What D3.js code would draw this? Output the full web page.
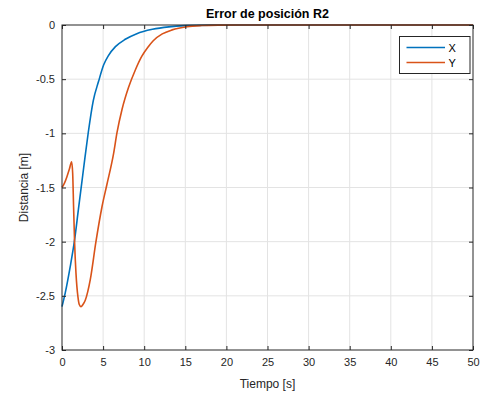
<!DOCTYPE html>
<html>
<head>
<meta charset="utf-8">
<script src="https://cdn.jsdelivr.net/npm/d3@7"></script>
<style>
  body { margin: 0; background: #fff; }
  svg { font-family: "Liberation Sans", Arial, sans-serif; }
</style>
</head>
<body>
<div id="chart"></div>
<script>
"use strict"
// Time samples [s] and position error [m] for each coordinate
var tX = [0, 0.4, 1.0, 1.5, 2.0, 2.4, 2.8, 3.2, 3.8, 4.45, 5.06, 5.67, 6.5, 7.7, 9.1, 11, 13, 15, 18, 21, 50]
var errX = [-2.6, -2.47, -2.23, -2.0, -1.7, -1.46, -1.22, -0.99, -0.7, -0.52, -0.37, -0.28, -0.2, -0.132, -0.08, -0.04, -0.017, -0.006, -0.001, 0, 0]

var tY = [0, 0.3, 0.6, 0.9, 1.17, 1.3, 1.41, 1.53, 1.7, 1.94, 2.1, 2.31, 2.55, 2.83, 3.44, 4.13, 4.86, 5.47, 6.28, 6.69, 7.3, 8.1, 8.92, 9.7, 10.5, 11.1, 12.2, 13.4, 15.2, 17, 19, 22, 50]
var errY = [-1.5, -1.46, -1.4, -1.33, -1.262, -1.37, -1.68, -2.0, -2.29, -2.51, -2.58, -2.6, -2.58, -2.54, -2.35, -2.0, -1.68, -1.47, -1.185, -0.994, -0.78, -0.575, -0.415, -0.29, -0.2, -0.145, -0.082, -0.045, -0.016, -0.005, -0.001, 0, 0]

var seriesNames = ["X", "Y"]
var seriesColors = ["#0072BD", "#D95319"]
var xTicks = [0, 5, 10, 15, 20, 25, 30, 35, 40, 45, 50]
var yTicks = [0, -0.5, -1, -1.5, -2, -2.5, -3]

var width = 482
var height = 395
var margin = { top: 25, right: 9, bottom: 45, left: 62 }
var drawWidth = width - margin.left - margin.right
var drawHeight = height - margin.top - margin.bottom
var axisColor = "#262626"

var svg = d3.select("#chart").append("svg")
    .attr("width", width)
    .attr("height", height)

var g = svg.append("g")
    .attr("transform", "translate(" + margin.left + "," + margin.top + ")")

var xScale = d3.scaleLinear().domain([0, 50]).range([0, drawWidth])
var yScale = d3.scaleLinear().domain([-3, 0]).range([drawHeight, 0])

// Grid lines
g.append("g").selectAll("line").data(xTicks.slice(1, -1)).enter().append("line")
    .attr("x1", function (d) { return xScale(d) }).attr("x2", function (d) { return xScale(d) })
    .attr("y1", 0).attr("y2", drawHeight)
    .attr("stroke", "#e3e3e3").attr("stroke-width", 1)
g.append("g").selectAll("line").data(yTicks.slice(1, -1)).enter().append("line")
    .attr("y1", function (d) { return yScale(d) }).attr("y2", function (d) { return yScale(d) })
    .attr("x1", 0).attr("x2", drawWidth)
    .attr("stroke", "#e3e3e3").attr("stroke-width", 1)

// Data lines
var line = d3.line()
    .x(function (d) { return xScale(d[0]) })
    .y(function (d) { return yScale(d[1]) })
    .curve(d3.curveMonotoneX)

var series = [d3.zip(tX, errX), d3.zip(tY, errY)]
series.forEach(function (s, i) {
    g.append("path")
        .datum(s)
        .attr("fill", "none")
        .attr("stroke", seriesColors[i])
        .attr("stroke-width", 1.6)
        .attr("stroke-linejoin", "round")
        .attr("d", line)
})

// Axes (ticks inward, box on all sides)
function styleAxis(sel) {
    sel.select(".domain").remove()
    sel.selectAll(".tick line").attr("stroke", axisColor)
    sel.selectAll(".tick text").attr("fill", axisColor).style("font-size", "11px")
        .style("font-family", "'Liberation Sans', Arial, sans-serif")
}

g.append("g")
    .attr("transform", "translate(0," + drawHeight + ")")
    .call(d3.axisBottom(xScale).tickValues(xTicks).tickFormat(d3.format("d")).tickSizeInner(-4).tickPadding(8))
    .call(styleAxis)
g.append("g")
    .call(d3.axisTop(xScale).tickValues(xTicks).tickFormat("").tickSizeInner(-4))
    .call(styleAxis)
g.append("g")
    .call(d3.axisLeft(yScale).tickValues(yTicks).tickFormat(function (d) { return d === 0 ? "0" : d3.format("")(d).replace("−", "-") }).tickSizeInner(-4).tickPadding(7))
    .call(styleAxis)
g.append("g")
    .attr("transform", "translate(" + drawWidth + ",0)")
    .call(d3.axisRight(yScale).tickValues(yTicks).tickFormat("").tickSizeInner(-4))
    .call(styleAxis)

g.append("rect")
    .attr("width", drawWidth).attr("height", drawHeight)
    .attr("fill", "none").attr("stroke", axisColor).attr("stroke-width", 1)

// Titles
svg.append("text")
    .attr("x", margin.left + drawWidth / 2).attr("y", 18)
    .attr("text-anchor", "middle")
    .style("font-size", "12.5px").style("font-weight", "bold")
    .attr("fill", "#000")
    .text("Error de posición R2")

svg.append("text")
    .attr("x", margin.left + drawWidth / 2).attr("y", 388)
    .attr("text-anchor", "middle")
    .style("font-size", "12px")
    .attr("fill", axisColor)
    .text("Tiempo [s]")

svg.append("text")
    .attr("transform", "translate(28," + (margin.top + drawHeight / 2) + ") rotate(-90)")
    .attr("text-anchor", "middle")
    .style("font-size", "12px")
    .attr("fill", axisColor)
    .text("Distancia [m]")

// Legend
var legend = svg.append("g").attr("transform", "translate(399.5,36.5)")
legend.append("rect")
    .attr("width", 70.5).attr("height", 37)
    .attr("fill", "#fff").attr("stroke", axisColor).attr("stroke-width", 1)
seriesNames.forEach(function (name, i) {
    var y = 11 + i * 15
    legend.append("line")
        .attr("x1", 7).attr("x2", 45.5).attr("y1", y).attr("y2", y)
        .attr("stroke", seriesColors[i]).attr("stroke-width", 1.6)
    legend.append("text")
        .attr("x", 49).attr("y", y + 4)
        .style("font-size", "11px")
        .attr("fill", "#000")
        .text(name)
})
</script>
</body>
</html>
